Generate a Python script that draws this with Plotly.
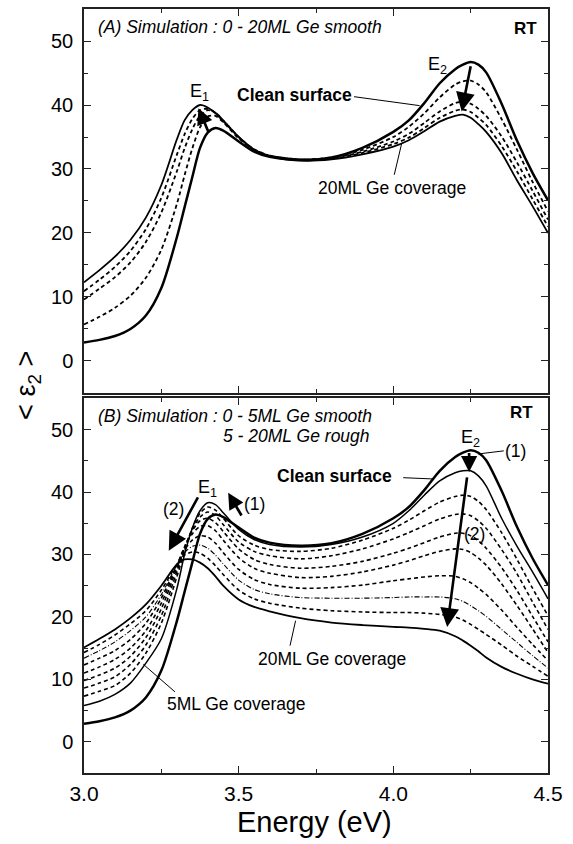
import plotly.graph_objects as go

# ---------------- data ----------------
energy = [3.00, 3.05, 3.10, 3.15, 3.20, 3.25, 3.30, 3.325, 3.35, 3.375, 3.40, 3.425, 3.45,
          3.50, 3.55, 3.60, 3.70, 3.80, 3.90, 4.00, 4.05, 4.10, 4.15, 4.20, 4.225, 4.25,
          4.275, 4.30, 4.35, 4.40, 4.45, 4.50]

clean_surface = [2.9, 3.3, 3.9, 5.0, 7.1, 11.4, 19.3, 24.0, 28.7, 33.3, 35.7, 36.4, 36.0,
                 34.3, 32.7, 31.9, 31.4, 31.8, 33.3, 35.8, 37.6, 40.3, 43.4, 45.6, 46.3, 46.7,
                 46.3, 45.1, 40.2, 34.4, 29.4, 25.1]

# Panel A : 0 - 20 ML smooth
a_dash1 = [5.7, 6.9, 8.3, 10.2, 13.0, 17.4, 24.5, 29.0, 33.2, 36.5, 38.2, 38.3, 37.3,
           34.8, 33.0, 32.1, 31.5, 31.8, 33.0, 35.0, 36.6, 38.7, 41.2, 43.2, 43.7, 43.8,
           43.2, 42.0, 37.8, 33.0, 28.0, 23.4]
a_dash2 = [9.6, 11.3, 13.1, 15.4, 18.6, 23.2, 29.6, 33.2, 36.2, 38.3, 39.2, 38.8, 37.6,
           35.0, 33.1, 32.1, 31.5, 31.7, 32.7, 34.3, 35.5, 37.2, 39.0, 40.3, 40.5, 40.2,
           39.4, 38.3, 35.1, 31.0, 26.6, 22.1]
a_dash3 = [10.9, 12.7, 14.7, 17.2, 20.6, 25.5, 32.2, 35.4, 37.8, 39.2, 39.4, 38.8, 37.6,
           35.0, 33.0, 32.0, 31.4, 31.6, 32.5, 33.9, 34.9, 36.4, 38.0, 39.1, 39.3, 38.9,
           38.0, 36.9, 33.6, 29.6, 25.3, 21.0]
a_20ml = [12.3, 14.2, 16.3, 18.9, 22.4, 27.5, 34.6, 37.6, 39.2, 40.0, 39.6, 38.7, 37.5,
          35.0, 33.0, 32.0, 31.3, 31.5, 32.3, 33.5, 34.5, 35.9, 37.4, 38.3, 38.5, 38.0,
          37.0, 35.8, 32.5, 28.2, 24.2, 20.0]

# Panel B : 0 - 5 ML smooth, 5 - 20 ML rough
b_5ml = [5.8, 6.5, 7.6, 9.4, 12.6, 16.5, 24.5, 30.0, 34.2, 37.0, 38.3, 38.0, 36.7,
         34.0, 32.4, 31.6, 31.2, 31.6, 32.8, 35.0, 37.0, 39.5, 41.8, 43.1, 43.4, 43.4,
         42.6, 41.0, 35.8, 31.3, 27.2, 22.9]
b_rough1 = [7.3, 8.1, 9.0, 11.0, 14.2, 19.0, 26.4, 30.6, 34.2, 36.6, 37.6, 37.1, 35.8,
            33.0, 31.5, 30.8, 30.5, 31.0, 32.3, 34.2, 35.5, 37.0, 38.4, 39.3, 39.5, 39.3,
            38.5, 37.2, 33.5, 29.2, 24.6, 20.2]
b_rough2 = [8.6, 9.4, 10.4, 12.4, 15.5, 20.2, 27.2, 31.0, 34.0, 36.0, 36.8, 36.2, 34.8,
            32.0, 30.5, 29.8, 29.3, 29.8, 30.9, 32.5, 33.5, 34.6, 35.7, 36.4, 36.5, 36.2,
            35.4, 34.2, 30.8, 26.9, 22.4, 18.0]
b_rough3 = [9.8, 10.7, 11.8, 13.7, 16.7, 21.3, 27.8, 31.2, 33.8, 35.4, 35.8, 35.1, 33.7,
            30.9, 29.2, 28.4, 27.8, 28.1, 28.9, 30.2, 31.0, 31.9, 32.8, 33.4, 33.4, 33.0,
            32.2, 31.0, 27.9, 24.2, 20.1, 16.0]
b_rough4 = [11.0, 12.0, 13.2, 15.0, 17.8, 22.2, 28.2, 31.2, 33.3, 34.5, 34.6, 33.8, 32.3,
            29.5, 27.8, 27.0, 26.3, 26.5, 27.2, 28.3, 29.0, 29.8, 30.5, 30.9, 30.8, 30.3,
            29.4, 28.3, 25.3, 21.8, 18.1, 14.3]
b_rough5 = [12.3, 13.4, 14.6, 16.4, 19.0, 23.0, 28.3, 30.8, 32.3, 33.0, 32.8, 31.8, 30.3,
            27.6, 26.0, 25.2, 24.6, 24.7, 25.1, 25.8, 26.1, 26.4, 26.6, 26.5, 26.1, 25.5,
            24.6, 23.6, 21.1, 18.3, 15.6, 13.0]
b_rough6 = [13.4, 14.6, 16.0, 17.8, 20.0, 23.6, 28.3, 30.3, 31.3, 31.5, 31.0, 29.9, 28.5,
            25.9, 24.4, 23.7, 23.1, 23.0, 23.0, 23.1, 23.2, 23.2, 23.2, 22.9, 22.5, 21.8,
            21.0, 20.1, 18.0, 15.9, 13.8, 11.8]
b_rough7 = [14.3, 15.6, 17.1, 18.9, 21.0, 24.3, 28.4, 29.9, 30.4, 30.2, 29.4, 28.2, 26.8,
            24.3, 22.9, 22.2, 21.4, 21.0, 20.8, 20.7, 20.7, 20.6, 20.4, 20.0, 19.5, 18.8,
            18.0, 17.2, 15.5, 13.7, 12.1, 10.5]
b_20ml = [15.1, 16.5, 18.0, 19.8, 22.0, 25.0, 28.4, 29.2, 29.2, 28.7, 27.8, 26.5, 25.0,
          22.8, 21.6, 20.9, 19.8, 19.1, 18.7, 18.4, 18.3, 18.1, 17.8, 16.9, 16.2, 15.4,
          14.5, 13.5, 12.0, 10.9, 10.0, 9.3]

x_ticks = [3.0, 3.5, 4.0, 4.5]
x_tick_labels = ["3.0", "3.5", "4.0", "4.5"]
y_ticks = [0, 10, 20, 30, 40, 50]

# ---------------- figure ----------------
FONT = "Liberation Sans, Arial, sans-serif"
DASH = "4px,3px"
fig = go.Figure()


def add(y, xa, ya, width, dash="solid"):
    fig.add_trace(go.Scatter(
        x=energy, y=y, mode="lines", xaxis=xa, yaxis=ya,
        line=dict(color="black", width=width, dash=dash, shape="spline", smoothing=0.8),
        showlegend=False, hoverinfo="skip"))


# panel A
add(a_20ml, "x", "y", 1.8)
add(a_dash3, "x", "y", 1.8, DASH)
add(a_dash2, "x", "y", 1.8, DASH)
add(a_dash1, "x", "y", 1.8, DASH)
add(clean_surface, "x", "y", 2.5)
# panel B
add(b_20ml, "x2", "y2", 1.8)
add(b_rough7, "x2", "y2", 1.6, DASH)
add(b_rough6, "x2", "y2", 1.1, "5px,2px,1px,2px")
add(b_rough5, "x2", "y2", 1.6, DASH)
add(b_rough4, "x2", "y2", 1.6, DASH)
add(b_rough3, "x2", "y2", 1.6, DASH)
add(b_rough2, "x2", "y2", 1.6, DASH)
add(b_rough1, "x2", "y2", 1.6, DASH)
add(b_5ml, "x2", "y2", 1.5)
add(clean_surface, "x2", "y2", 2.5)

ax_common = dict(range=[3, 4.5], tickvals=x_ticks, ticktext=x_tick_labels,
                 ticks="inside", ticklen=7, tickwidth=1.3, tickcolor="#222",
                 minor=dict(dtick=0.25, tick0=3, ticks="inside", ticklen=4, tickwidth=1.1, tickcolor="#222"),
                 showline=True, linecolor="#222", linewidth=1.5, mirror="allticks",
                 showgrid=False, zeroline=False,
                 tickfont=dict(family=FONT, size=21, color="black"))
ay_common = dict(range=[-5, 55], tickvals=y_ticks,
                 ticks="inside", ticklen=7, tickwidth=1.3, tickcolor="#222",
                 minor=dict(dtick=5, tick0=0, ticks="inside", ticklen=4, tickwidth=1.1, tickcolor="#222"),
                 showline=True, linecolor="#222", linewidth=1.5, mirror="allticks",
                 showgrid=False, zeroline=False, ticklabelstandoff=5,
                 tickfont=dict(family=FONT, size=20, color="black"))

fig.update_layout(
    width=573, height=844,
    margin=dict(l=84, r=25, t=7, b=71),
    paper_bgcolor="white", plot_bgcolor="white",
    xaxis=dict(ax_common, anchor="y", showticklabels=False),
    yaxis=dict(ay_common, domain=[0.4974, 1.0], anchor="x"),
    xaxis2=dict(ax_common, anchor="y2", ticklabelstandoff=1),
    yaxis2=dict(ay_common, domain=[0.0, 0.4903], anchor="x2"),
    font=dict(family=FONT, color="black"),
)

ann = []


def text(t, x, y, xr, yr, size=17, xanchor="center"):
    ann.append(dict(text=t, x=x, y=y, xref=xr, yref=yr, showarrow=False,
                    xanchor=xanchor, yanchor="middle",
                    font=dict(family=FONT, size=size, color="black")))


def arrow(xh, yh, xt, yt, xr, yr, size=1.45, width=2.6):
    ann.append(dict(text="", x=xh, y=yh, ax=xt, ay=yt, xref=xr, yref=yr,
                    axref=xr, ayref=yr, showarrow=True, arrowhead=2,
                    arrowsize=size, arrowwidth=width, arrowcolor="black"))


shapes = []


def pointer(x0, y0, x1, y1, xr, yr):
    shapes.append(dict(type="line", x0=x0, y0=y0, x1=x1, y1=y1, xref=xr, yref=yr,
                       line=dict(color="black", width=1)))


# panel A labels
text("<i>(A) Simulation : 0 - 20ML Ge smooth</i>", 3.0375, 52.2, "x", "y", 17.5, "left")
text("<b>RT</b>", 4.472, 51.9, "x", "y", 17, "right")
text("E<sub>1</sub>", 3.372, 42.0, "x", "y", 18)
text("<b>Clean surface</b>", 3.680, 41.6, "x", "y", 17.5)
text("E<sub>2</sub>", 4.144, 46.2, "x", "y", 18)
text("20ML Ge coverage", 3.997, 27.0, "x", "y", 17.5)
pointer(3.873, 41.3, 4.085, 39.9, "x", "y")
pointer(4.003, 29.1, 4.027, 34.0, "x", "y")
arrow(4.221, 39.0, 4.251, 46.3, "x", "y")
arrow(3.370, 39.5, 3.404, 35.6, "x", "y", 1.2, 2.7)

# panel B labels
text("<i>(B) Simulation : 0 - 5ML Ge smooth</i>", 3.0375, 52.2, "x2", "y2", 17.5, "left")
text("<i>5 - 20ML Ge rough</i>", 3.443, 49.0, "x2", "y2", 17.5, "left")
text("<b>RT</b>", 4.458, 52.7, "x2", "y2", 17, "right")
text("E<sub>2</sub>", 4.248, 48.6, "x2", "y2", 18)
text("(1)", 4.395, 46.6, "x2", "y2", 17.5)
pointer(4.357, 46.6, 4.274, 46.1, "x2", "y2")
arrow(4.245, 43.2, 4.245, 46.5, "x2", "y2", 1.2, 2.7)
arrow(4.174, 18.4, 4.239, 42.6, "x2", "y2")
text("(2)", 4.262, 33.3, "x2", "y2", 17.5)
text("<b>Clean surface</b>", 3.811, 42.6, "x2", "y2", 17.5)
pointer(4.032, 42.3, 4.127, 42.1, "x2", "y2")
text("E<sub>1</sub>", 3.40, 40.6, "x2", "y2", 18)
text("(1)", 3.55, 38.1, "x2", "y2", 17.5)
arrow(3.466, 39.9, 3.512, 36.0, "x2", "y2", 1.2, 2.7)
text("(2)", 3.289, 37.3, "x2", "y2", 17.5)
arrow(3.274, 30.6, 3.371, 39.4, "x2", "y2")
text("20ML Ge coverage", 3.802, 13.3, "x2", "y2", 17.5)
pointer(3.666, 15.4, 3.684, 19.4, "x2", "y2")
text("5ML Ge coverage", 3.492, 6.1, "x2", "y2", 17.5)
pointer(3.192, 12.4, 3.294, 8.0, "x2", "y2")

# axis titles
ann.append(dict(text="< ε<sub>2</sub> >", x=-0.1207, y=0.508, xref="paper", yref="paper",
                showarrow=False, textangle=-90, xanchor="center", yanchor="middle",
                font=dict(family=FONT, size=27, color="black")))
ann.append(dict(text="Energy (eV)", x=0.497, y=-0.064, xref="paper", yref="paper",
                showarrow=False, xanchor="center", yanchor="middle",
                font=dict(family=FONT, size=29, color="black")))

fig.update_layout(annotations=ann, shapes=shapes)
fig.write_html("out.html")
